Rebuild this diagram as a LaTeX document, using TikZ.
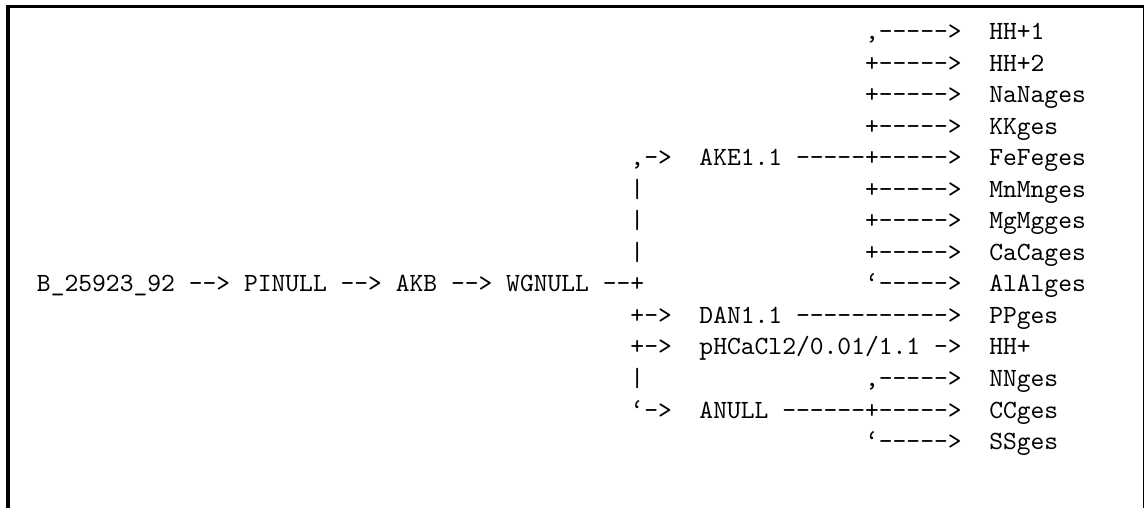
\documentclass[tikz,border=0pt]{standalone}
\begin{document}
\begin{tikzpicture}[x=0.3804pt,y=-0.3804pt,
  t/.style={anchor=base west,inner sep=0pt,outer sep=0pt,font=\ttfamily\fontsize{10}{12}\selectfont}]
\useasboundingbox (0,0) rectangle (1144,508);
\draw[line width=1.3pt] (8,508) -- (8,6.4) -- (1144,6.4);
\draw[line width=0.55pt] (1143.2,6.4) -- (1143.2,508);
\begin{scope}[shift={(14.07pt,-15.03pt)},x=5.25pt,y=-12pt]
\node[t] (a0) at (60,0) {,----->};  \node[t] (l0) at (69,0) {HH+1};
\node[t] (a1) at (60,1) {+----->};  \node[t] (l1) at (69,1) {HH+2};
\node[t] (a2) at (60,2) {+----->};  \node[t] (l2) at (69,2) {NaNages};
\node[t] (a3) at (60,3) {+----->};  \node[t] (l3) at (69,3) {KKges};
\node[t] (b4) at (43,4) {,->};
\node[t] (ake) at (48,4) {AKE1.1 -----+----->}; \node[t] (l4) at (69,4) {FeFeges};
\node[t] (v5) at (43,5) {|}; \node[t] (a5) at (60,5) {+----->}; \node[t] (l5) at (69,5) {MnMnges};
\node[t] (v6) at (43,6) {|}; \node[t] (a6) at (60,6) {+----->}; \node[t] (l6) at (69,6) {MgMgges};
\node[t] (v7) at (43,7) {|}; \node[t] (a7) at (60,7) {+----->}; \node[t] (l7) at (69,7) {CaCages};
\node[t] (main) at (0,8) {B\_25923\_92 --> PINULL --> AKB --> WGNULL --+};
\node[t] (a8) at (60,8) {‘----->}; \node[t] (l8) at (69,8) {AlAlges};
\node[t] (b9) at (43,9) {+->}; \node[t] (dan) at (48,9) {DAN1.1 ----------->}; \node[t] (l9) at (69,9) {PPges};
\node[t] (b10) at (43,10) {+->}; \node[t] (ph) at (48,10) {pHCaCl2/0.01/1.1 ->}; \node[t] (l10) at (69,10) {HH+};
\node[t] (v11) at (43,11) {|}; \node[t] (a11) at (60,11) {,----->}; \node[t] (l11) at (69,11) {NNges};
\node[t] (b12) at (43,12) {‘->}; \node[t] (an) at (48,12) {ANULL ------+----->}; \node[t] (l12) at (69,12) {CCges};
\node[t] (a13) at (60,13) {‘----->}; \node[t] (l13) at (69,13) {SSges};
\end{scope}
\end{tikzpicture}
\end{document}
